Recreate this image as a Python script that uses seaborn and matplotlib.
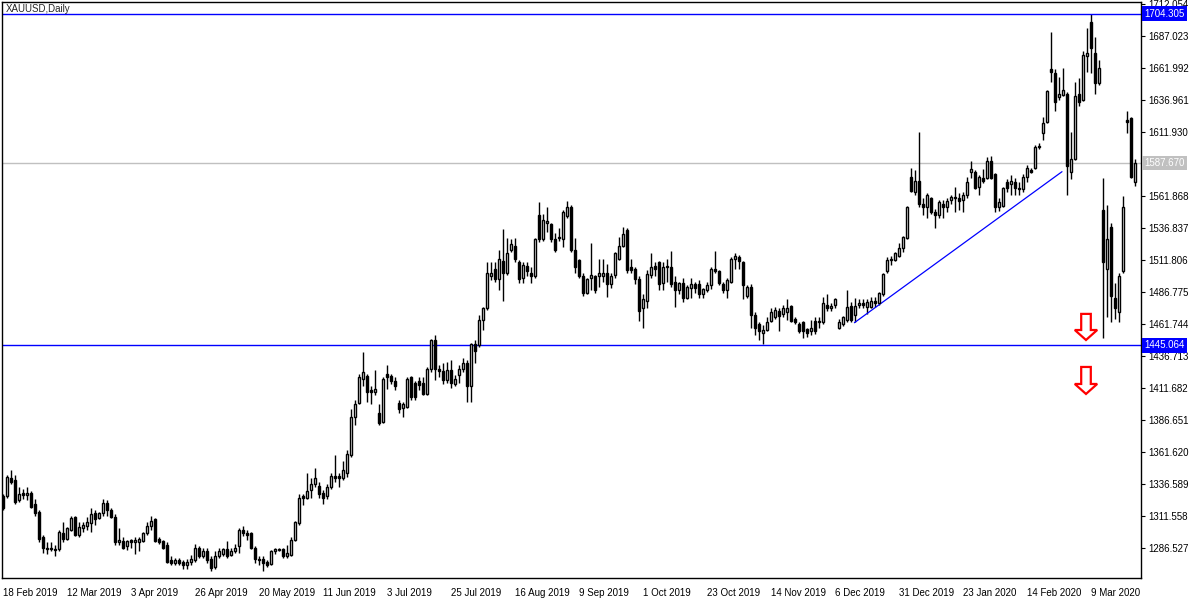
import numpy as np
import pandas as pd
import matplotlib
matplotlib.use("Agg")
import matplotlib.pyplot as plt
import seaborn as sns
from matplotlib.patches import FancyArrow

# --- XAUUSD daily candles, 18 Feb 2019 .. Mar 2020 ---

opens = [1327, 1327, 1341, 1340, 1324, 1330, 1328, 1330, 1321, 1315, 1295, 1287, 1286, 1286, 1286, 1298, 1294, 1301, 1311, 1297,
         1302, 1304, 1306, 1314, 1310, 1314, 1322, 1316, 1311, 1291, 1292, 1288, 1293, 1291, 1291, 1292, 1298, 1304, 1309, 1294,
         1292, 1289, 1277, 1275, 1277, 1276, 1273, 1276, 1277, 1287, 1280, 1284, 1278, 1272, 1280, 1282, 1286, 1281, 1284, 1288,
         1301, 1298, 1298, 1287, 1278, 1278, 1276, 1274, 1284, 1285, 1286, 1280, 1281, 1293, 1306, 1327, 1326, 1332, 1337, 1335,
         1330, 1327, 1334, 1343, 1343, 1341, 1345, 1359, 1389, 1400, 1419, 1421, 1410, 1409, 1392, 1385, 1423, 1421, 1417, 1400,
         1396, 1397, 1420, 1416, 1417, 1416, 1407, 1427, 1449, 1427, 1425, 1418, 1426, 1415, 1422, 1427, 1431, 1413, 1446, 1445,
         1465, 1474, 1499, 1505, 1497, 1511, 1502, 1520, 1523, 1510, 1498, 1507, 1502, 1499, 1547, 1528, 1541, 1540, 1528, 1530,
         1528, 1546, 1553, 1520, 1512, 1499, 1486, 1498, 1499, 1499, 1499, 1502, 1493, 1500, 1513, 1523, 1535, 1506, 1505, 1497,
         1474, 1480, 1500, 1507, 1510, 1494, 1507, 1506, 1495, 1488, 1494, 1482, 1490, 1493, 1493, 1485, 1488, 1492, 1505, 1503,
         1493, 1488, 1495, 1513, 1514, 1510, 1484, 1491, 1469, 1462, 1455, 1457, 1464, 1467, 1472, 1470, 1471, 1476, 1466, 1462,
         1463, 1458, 1456, 1464, 1463, 1463, 1477, 1474, 1477, 1459, 1462, 1465, 1476, 1469, 1477, 1478, 1475, 1475, 1480, 1478,
         1485, 1503, 1512, 1512, 1515, 1521, 1529, 1577, 1565, 1574, 1556, 1553, 1560, 1549, 1547, 1556, 1553, 1559, 1561, 1560,
         1559, 1563, 1581, 1581, 1569, 1576, 1576, 1589, 1579, 1553, 1554, 1573, 1571, 1573, 1568, 1567, 1577, 1582, 1584, 1601,
         1611, 1620, 1661, 1658, 1639, 1641, 1642, 1581, 1591, 1642, 1637, 1671, 1698, 1674, 1650, 1551, 1505, 1538, 1482, 1471,
         1503, 1621, 1623, 1573]

highs = [1329, 1344, 1348, 1344, 1334, 1333, 1334, 1331, 1325, 1316, 1297, 1291, 1291, 1289, 1301, 1307, 1303, 1312, 1312, 1307,
         1307, 1311, 1318, 1316, 1315, 1325, 1324, 1318, 1313, 1302, 1295, 1293, 1294, 1295, 1295, 1299, 1307, 1312, 1310, 1295,
         1293, 1291, 1280, 1279, 1279, 1277, 1278, 1281, 1290, 1288, 1287, 1287, 1280, 1284, 1287, 1287, 1292, 1287, 1290, 1302,
         1304, 1301, 1299, 1288, 1280, 1280, 1277, 1285, 1287, 1287, 1287, 1289, 1295, 1308, 1329, 1329, 1345, 1341, 1349, 1338,
         1332, 1337, 1345, 1359, 1345, 1355, 1363, 1395, 1402, 1423, 1440, 1423, 1413, 1426, 1399, 1420, 1430, 1423, 1420, 1402,
         1401, 1420, 1421, 1417, 1420, 1420, 1428, 1450, 1453, 1430, 1431, 1432, 1434, 1422, 1430, 1435, 1434, 1447, 1449, 1469,
         1475, 1510, 1510, 1510, 1520, 1536, 1529, 1528, 1529, 1512, 1510, 1510, 1506, 1529, 1557, 1548, 1553, 1541, 1533, 1537,
         1551, 1558, 1555, 1529, 1513, 1502, 1498, 1525, 1500, 1513, 1513, 1509, 1502, 1518, 1530, 1538, 1537, 1513, 1506, 1499,
         1485, 1504, 1517, 1510, 1511, 1510, 1513, 1519, 1499, 1495, 1498, 1492, 1498, 1495, 1496, 1490, 1495, 1506, 1519, 1504,
         1495, 1498, 1514, 1517, 1516, 1511, 1492, 1493, 1471, 1463, 1461, 1467, 1474, 1475, 1474, 1477, 1481, 1477, 1467, 1463,
         1464, 1459, 1465, 1467, 1467, 1483, 1485, 1478, 1482, 1466, 1468, 1488, 1479, 1482, 1481, 1481, 1481, 1483, 1483, 1487,
         1502, 1514, 1515, 1518, 1525, 1531, 1554, 1584, 1582, 1612, 1560, 1564, 1561, 1552, 1559, 1559, 1560, 1563, 1569, 1564,
         1565, 1577, 1589, 1582, 1578, 1583, 1592, 1593, 1580, 1560, 1569, 1575, 1578, 1576, 1573, 1579, 1586, 1584, 1602, 1603,
         1624, 1645, 1690, 1661, 1655, 1662, 1643, 1612, 1651, 1654, 1675, 1693, 1704.305, 1686, 1668, 1576, 1555, 1541, 1494, 1502,
         1562, 1628, 1624, 1591]

lows = [1316, 1326, 1337, 1321, 1323, 1325, 1324, 1318, 1312, 1291, 1283, 1282, 1284, 1280, 1284, 1291, 1293, 1300, 1296, 1295,
        1299, 1301, 1299, 1305, 1309, 1312, 1312, 1310, 1289, 1289, 1286, 1285, 1287, 1282, 1284, 1291, 1297, 1301, 1291, 1290,
        1286, 1275, 1273, 1273, 1273, 1270, 1270, 1273, 1276, 1279, 1279, 1275, 1269, 1270, 1279, 1280, 1279, 1280, 1283, 1283,
        1296, 1293, 1286, 1275, 1273, 1269, 1272, 1273, 1282, 1284, 1279, 1279, 1280, 1292, 1305, 1320, 1325, 1326, 1334, 1326,
        1321, 1325, 1333, 1338, 1334, 1340, 1342, 1358, 1383, 1399, 1413, 1401, 1399, 1406, 1383, 1384, 1411, 1415, 1410, 1392,
        1389, 1396, 1402, 1402, 1410, 1406, 1406, 1424, 1418, 1420, 1415, 1416, 1412, 1413, 1416, 1424, 1401, 1401, 1431, 1444,
        1457, 1473, 1496, 1495, 1488, 1480, 1500, 1518, 1510, 1494, 1494, 1499, 1494, 1498, 1526, 1527, 1534, 1526, 1518, 1527,
        1522, 1545, 1518, 1502, 1498, 1484, 1485, 1488, 1486, 1491, 1495, 1483, 1490, 1498, 1512, 1522, 1502, 1502, 1493, 1464,
        1459, 1474, 1498, 1499, 1488, 1488, 1495, 1491, 1475, 1485, 1479, 1481, 1482, 1486, 1482, 1482, 1487, 1489, 1502, 1492,
        1486, 1482, 1494, 1505, 1505, 1481, 1482, 1459, 1453, 1449, 1446, 1456, 1463, 1466, 1456, 1467, 1465, 1463, 1462, 1455,
        1451, 1452, 1453, 1454, 1459, 1462, 1472, 1472, 1474, 1458, 1460, 1463, 1463, 1463, 1474, 1474, 1470, 1474, 1475, 1477,
        1484, 1502, 1508, 1511, 1514, 1518, 1528, 1565, 1563, 1553, 1547, 1545, 1548, 1537, 1545, 1545, 1549, 1556, 1549, 1551,
        1549, 1560, 1576, 1567, 1563, 1572, 1575, 1575, 1549, 1550, 1553, 1565, 1563, 1563, 1563, 1565, 1573, 1580, 1583, 1599,
        1606, 1619, 1651, 1628, 1637, 1640, 1563, 1575, 1590, 1632, 1636, 1659, 1658, 1642, 1649, 1451, 1467, 1463, 1466, 1463,
        1502, 1611, 1576, 1570]

closes = [1318, 1342, 1338, 1323, 1329, 1328, 1330, 1319, 1314, 1294, 1287, 1286, 1287, 1285, 1299, 1294, 1302, 1310, 1297, 1303,
          1305, 1307, 1313, 1309, 1314, 1322, 1316, 1311, 1291, 1293, 1287, 1292, 1291, 1293, 1294, 1298, 1304, 1308, 1292, 1291,
          1287, 1276, 1275, 1277, 1275, 1273, 1276, 1278, 1287, 1280, 1284, 1277, 1271, 1280, 1284, 1286, 1280, 1284, 1287, 1301,
          1298, 1297, 1287, 1278, 1277, 1275, 1273, 1284, 1286, 1286, 1280, 1283, 1293, 1307, 1326, 1326, 1331, 1337, 1341, 1329,
          1326, 1334, 1343, 1341, 1341, 1348, 1360, 1389, 1399, 1420, 1424, 1409, 1409, 1411, 1384, 1419, 1420, 1417, 1413, 1395,
          1399, 1419, 1405, 1405, 1414, 1407, 1427, 1449, 1427, 1425, 1418, 1426, 1416, 1419, 1427, 1431, 1413, 1446, 1441, 1465,
          1474, 1502, 1502, 1497, 1513, 1502, 1517, 1524, 1513, 1497, 1508, 1503, 1499, 1528, 1528, 1543, 1542, 1528, 1520, 1529,
          1549, 1553, 1520, 1506, 1499, 1486, 1497, 1500, 1488, 1502, 1502, 1493, 1499, 1517, 1523, 1532, 1504, 1504, 1497, 1472,
          1481, 1501, 1506, 1505, 1493, 1506, 1506, 1493, 1488, 1494, 1482, 1491, 1493, 1490, 1485, 1489, 1492, 1505, 1503, 1494,
          1488, 1496, 1513, 1515, 1511, 1492, 1491, 1469, 1459, 1456, 1457, 1463, 1471, 1473, 1468, 1474, 1474, 1464, 1463, 1456,
          1456, 1455, 1459, 1456, 1464, 1478, 1474, 1476, 1481, 1463, 1467, 1475, 1465, 1476, 1478, 1477, 1479, 1480, 1478, 1486,
          1501, 1512, 1513, 1517, 1521, 1530, 1553, 1566, 1574, 1556, 1553, 1563, 1549, 1547, 1557, 1553, 1558, 1561, 1560, 1558,
          1563, 1573, 1583, 1568, 1577, 1574, 1589, 1576, 1553, 1557, 1568, 1568, 1574, 1568, 1567, 1577, 1584, 1581, 1600, 1600,
          1619, 1644, 1659, 1635, 1642, 1645, 1585, 1591, 1640, 1635, 1672, 1674, 1678, 1650, 1662, 1510, 1528, 1484, 1474, 1499,
          1553, 1620, 1577, 1587.67]

date_labels = ['18 Feb 2019', '12 Mar 2019', '3 Apr 2019', '26 Apr 2019', '20 May 2019', '11 Jun 2019',
               '3 Jul 2019', '25 Jul 2019', '16 Aug 2019', '9 Sep 2019', '1 Oct 2019', '23 Oct 2019',
               '14 Nov 2019', '6 Dec 2019', '31 Dec 2019', '23 Jan 2020', '14 Feb 2020', '9 Mar 2020']
bars_per_label = 16

price_ticks = [1286.527, 1311.558, 1336.589, 1361.620, 1386.651, 1411.682, 1436.713, 1461.744,
               1486.775, 1511.806, 1536.837, 1561.868, 1611.930, 1636.961, 1661.992, 1687.023, 1712.054]

level_top = 1704.305
level_bottom = 1445.064
last_price = 1587.670

# trend line (bar index, price) and the two down arrows (bar, top price, tip price)
trend_bars = [212.9, 264.8]
trend_prices = [1462.8, 1580.9]
arrow_bar = 270.8
arrow_tops = [1469.7, 1428.2]
arrow_tips = [1449.3, 1407.1]

df = pd.DataFrame({'open': opens, 'high': highs, 'low': lows, 'close': closes})
df['bar'] = np.arange(len(df))
df['up'] = df['close'] >= df['open']
df['body_lo'] = df[['open', 'close']].min(axis=1)
df['body_h'] = (df['close'] - df['open']).abs()

sns.set_style('white')
plt.rcParams['font.family'] = ['Liberation Sans', 'DejaVu Sans']

fig = plt.figure(figsize=(12, 6), dpi=100)
ax = fig.add_axes([0.0017, 0.0367, 0.9492, 0.96])

ax.vlines(df['bar'], df['low'], df['high'], color='black', linewidth=1)
ax.bar(df['bar'], df['body_h'], bottom=df['body_lo'], width=0.6,
       color=np.where(df['up'], 'white', 'black'), edgecolor='black', linewidth=1.0, zorder=3)

ax.axhline(level_top, color='#0000ff', linewidth=1)
ax.axhline(level_bottom, color='#0000ff', linewidth=1)
ax.axhline(last_price, color='#c0c0c0', linewidth=1, zorder=1)

sns.lineplot(x=trend_bars, y=trend_prices, color='#0000ff', linewidth=0.9, ax=ax)

for top, tip in zip(arrow_tops, arrow_tips):
    ax.add_patch(FancyArrow(arrow_bar, top, 0, tip - top, width=2.4, head_width=5.6,
                            head_length=7.8, length_includes_head=True, fill=False,
                            edgecolor='#ff0000', linewidth=1.6, zorder=5))

ax.set_xlim(-0.175, 284.57)
ax.set_ylim(1263.2, 1713.6)

ax.yaxis.tick_right()
ax.set_yticks(price_ticks)
ax.set_yticklabels([f'{v:.3f}' for v in price_ticks])
ax.set_xticks(np.arange(len(date_labels)) * bars_per_label)
ax.set_xticklabels(date_labels, ha='left')
ax.tick_params(axis='both', labelsize=7, length=3, width=0.8, color='black', pad=2, labelcolor='black')
ax.tick_params(axis='x', pad=4)
for s in ax.spines.values():
    s.set_color('black')
    s.set_linewidth(1)
ax.set_xlabel('')
ax.set_ylabel('')

ytr = ax.get_yaxis_transform()
for val, fc in [(level_top, '#0000ff'), (last_price, '#c0c0c0'), (level_bottom, '#0000ff')]:
    ax.text(1.003, val, f'{val:.3f}', transform=ytr, ha='left', va='center', fontsize=7,
            color='white', clip_on=False, zorder=6,
            bbox=dict(facecolor=fc, edgecolor='none', boxstyle='square,pad=0.25'))

ax.text(0.003, 0.997, 'XAUUSD,Daily', transform=ax.transAxes, ha='left', va='top', fontsize=7)

fig.savefig('out.png', dpi=100)
